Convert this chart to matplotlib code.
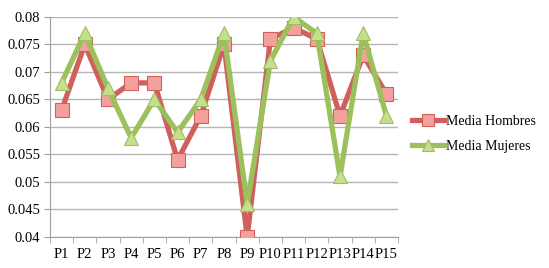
import matplotlib
matplotlib.use("Agg")
import matplotlib.pyplot as plt
import numpy as np

categorias = ["P1", "P2", "P3", "P4", "P5", "P6", "P7", "P8", "P9", "P10",
              "P11", "P12", "P13", "P14", "P15"]
media_hombres = [0.063, 0.075, 0.065, 0.068, 0.068, 0.054, 0.062, 0.075, 0.040,
                 0.076, 0.078, 0.076, 0.062, 0.073, 0.066]
media_mujeres = [0.068, 0.077, 0.067, 0.058, 0.065, 0.059, 0.065, 0.077, 0.046,
                 0.072, 0.080, 0.077, 0.051, 0.077, 0.062]
yticks = [0.04, 0.045, 0.05, 0.055, 0.06, 0.065, 0.07, 0.075, 0.08]
ytick_labels = ["0.04", "0.045", "0.05", "0.055", "0.06", "0.065", "0.07", "0.075", "0.08"]

plt.rcParams['font.family'] = ['Liberation Serif', 'DejaVu Serif']

fig = plt.figure(figsize=(5.49, 2.68), dpi=100)
ax = fig.add_axes([0.091, 0.116, 0.634, 0.821])

x = np.arange(len(categorias))
ax.plot(x, media_hombres, '-s', color='#d0605c', lw=3.8, ms=10,
        mfc='#f3a19c', mec='#d0605c', mew=0.8, label='Media Hombres', zorder=3)
ax.plot(x, media_mujeres, '-^', color='#9cc05c', lw=3.8, ms=10,
        mfc='#c6df8e', mec='#9cc05c', mew=0.8, label='Media Mujeres', zorder=4)

ax.set_xlim(-0.5, len(categorias) - 0.5)
ax.set_ylim(0.04, 0.08)
ax.set_yticks(yticks)
ax.set_yticklabels(ytick_labels, fontsize=10.5)
ax.set_xticks(x)
ax.set_xticklabels(categorias, fontsize=10.5)
ax.tick_params(axis='x', length=0, pad=8)
ax.set_xticks(np.arange(-0.5, len(categorias), 1), minor=True)
ax.tick_params(axis='x', which='minor', length=4, color='#a0a0a0', direction='out')
ax.tick_params(axis='y', length=4, color='#a0a0a0', pad=3)

ax.grid(axis='y', color='#b5b5b5', lw=1)
ax.set_axisbelow(True)
for s in ['top', 'right']:
    ax.spines[s].set_visible(False)
ax.spines['left'].set_color('#a0a0a0')
ax.spines['bottom'].set_color('#a0a0a0')

fig.legend(loc='center left', bbox_to_anchor=(0.728, 0.5), frameon=False,
           fontsize=10, handlelength=2.3, handletextpad=0.1, labelspacing=0.9,
           markerscale=0.8)

fig.savefig('out.png', dpi=100)
